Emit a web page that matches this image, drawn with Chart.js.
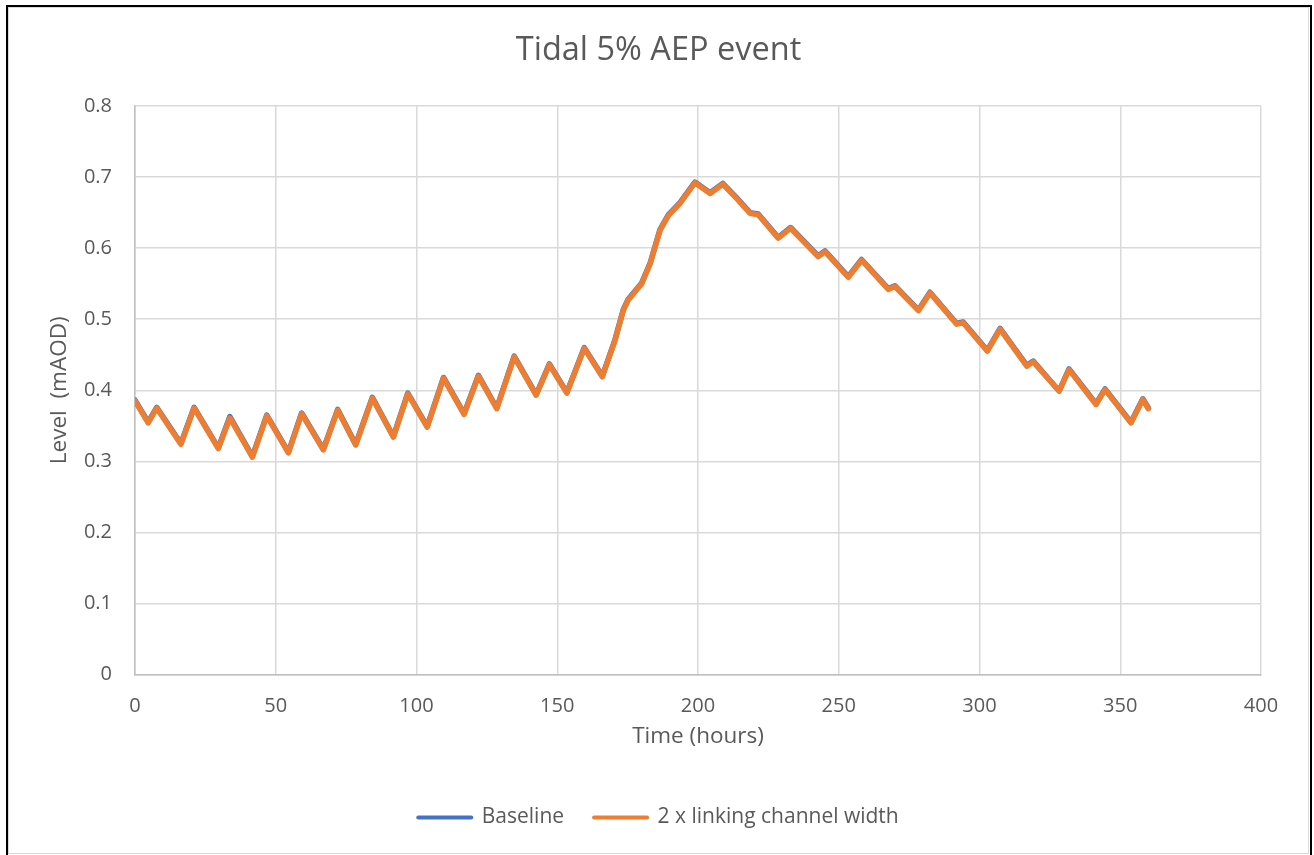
<!DOCTYPE html>
<html>
<head>
<meta charset="utf-8">
<script src="https://cdn.jsdelivr.net/npm/chart.js@4.4.1/dist/chart.umd.min.js"></script>
<style>
  html, body { margin: 0; padding: 0; background: #fff; width: 1314px; height: 855px; overflow: hidden; }
  #frame { position: absolute; left: 6px; top: 5px; width: 1302px; height: 860px; border: 2px solid #000; box-sizing: content-box; }
  #wrap { position: absolute; left: 9px; top: 8px; width: 1299px; height: 845px; outline: 1px solid #d9d9d9; }
</style>
</head>
<body>
<div id="frame"></div>
<div id="wrap"><canvas id="chart"></canvas></div>
<script>
// Time in hours of each recorded turning point of the water level
const hours = [0, 4.7, 7.7, 16.3, 21, 29.6, 33.7, 41.7, 46.8, 54.5, 59.2, 66.9, 72, 78.4, 84.3, 91.8,
  96.9, 103.8, 109.6, 116.9, 122, 128.5, 134.7, 142.5, 147.2, 153.4, 159.6, 166, 170.5, 173.5, 175.2,
  180, 183, 186.5, 189.5, 193.6, 198.9, 204.3, 208.8, 213.7, 218.5, 221.4, 228.5, 232.9, 242.7, 245.1,
  253.4, 258.1, 267.6, 270, 278.3, 282.4, 291.9, 294.2, 302.8, 307.3, 316.8, 319.1, 328.3, 331.8,
  341.4, 344.6, 353.8, 358, 360];

// Level (mAOD), baseline scenario
const baseline = [0.386, 0.355, 0.376, 0.325, 0.376, 0.319, 0.363, 0.307, 0.365, 0.313, 0.368, 0.317,
  0.373, 0.324, 0.390, 0.335, 0.396, 0.349, 0.418, 0.367, 0.421, 0.375, 0.448, 0.394, 0.437, 0.397,
  0.460, 0.420, 0.471, 0.514, 0.528, 0.551, 0.579, 0.626, 0.647, 0.664, 0.693, 0.678, 0.691, 0.671,
  0.650, 0.648, 0.615, 0.629, 0.589, 0.596, 0.560, 0.584, 0.543, 0.547, 0.513, 0.538, 0.494, 0.496,
  0.456, 0.487, 0.435, 0.441, 0.399, 0.430, 0.381, 0.402, 0.355, 0.388, 0.375];

// Level (mAOD), linking channel at twice the width
const doubleWidth = [0.385, 0.354, 0.375, 0.324, 0.375, 0.318, 0.361, 0.306, 0.364, 0.312, 0.367, 0.316,
  0.372, 0.323, 0.389, 0.334, 0.395, 0.348, 0.417, 0.366, 0.420, 0.374, 0.447, 0.393, 0.436, 0.396,
  0.459, 0.419, 0.470, 0.513, 0.527, 0.550, 0.578, 0.625, 0.646, 0.663, 0.692, 0.677, 0.690, 0.670,
  0.649, 0.647, 0.614, 0.628, 0.588, 0.595, 0.559, 0.583, 0.542, 0.546, 0.512, 0.537, 0.493, 0.495,
  0.455, 0.486, 0.434, 0.440, 0.399, 0.429, 0.380, 0.401, 0.354, 0.387, 0.374];

const seriesNames = ['Baseline', '2 x linking channel width'];
const chartTitle = 'Tidal 5% AEP event';
const xTitle = 'Time (hours)';
const yTitle = 'Level  (mAOD)';

const toPoints = vals => hours.map((h, i) => ({ x: h, y: vals[i] }));

const FONT = "'Open Sans', 'Liberation Sans', sans-serif";
const TEXT = '#595959';
const GRID = '#d9d9d9';

new Chart(document.getElementById('chart'), {
  type: 'line',
  data: {
    datasets: [
      { label: seriesNames[0], data: toPoints(baseline), borderColor: '#4472C4', backgroundColor: '#4472C4',
        borderWidth: 5.5, pointRadius: 0, tension: 0, order: 1, borderJoinStyle: 'round', borderCapStyle: 'round' },
      { label: seriesNames[1], data: toPoints(doubleWidth), borderColor: '#ED7D31', backgroundColor: '#ED7D31',
        borderWidth: 5.5, pointRadius: 0, tension: 0, order: 0, borderJoinStyle: 'round', borderCapStyle: 'round' }
    ]
  },
  options: {
    responsive: true,
    maintainAspectRatio: false,
    animation: false,
    layout: { padding: { left: 0, right: 0, top: 0, bottom: 15 } },
    plugins: {
      title: {
        display: true, text: chartTitle, color: TEXT,
        font: { family: FONT, size: 32.5, weight: 'normal' },
        padding: { top: 23.5, bottom: 35.5 }
      },
      legend: {
        position: 'bottom',
        labels: {
          color: TEXT, font: { family: FONT, size: 21 },
          usePointStyle: true, pointStyle: 'line', pointStyleWidth: 53, boxHeight: 21,
          padding: 30,
          generateLabels: chart => chart.data.datasets.map((ds, i) => ({
            text: ds.label, datasetIndex: i, fillStyle: ds.borderColor, strokeStyle: ds.borderColor,
            fontColor: TEXT, lineWidth: 4, pointStyle: 'line', lineCap: 'round', hidden: false
          }))
        }
      },
      tooltip: { enabled: false }
    },
    scales: {
      x: {
        type: 'linear', min: 0, max: 400,
        ticks: { stepSize: 50, color: TEXT, font: { family: FONT, size: 20 }, padding: 20, maxRotation: 0 },
        grid: { color: GRID, lineWidth: 1.5, drawTicks: false },
        border: { color: '#bfbfbf', width: 1.5 },
        title: { display: true, text: xTitle, color: TEXT, font: { family: FONT, size: 22.5 }, padding: { top: 0, bottom: 26.5 } },
        afterFit: s => { s.height = 102.5; }
      },
      y: {
        type: 'linear', min: 0, max: 0.8,
        ticks: { stepSize: 0.1, color: TEXT, font: { family: FONT, size: 20 }, padding: 23 },
        grid: { color: GRID, lineWidth: 1.5, drawTicks: false },
        border: { color: '#bfbfbf', width: 1.5 },
        title: { display: true, text: yTitle, color: TEXT, font: { family: FONT, size: 22.5 }, padding: { top: 37.5, bottom: 0 } },
        afterFit: s => { s.width = 126; }
      },
      // empty right-hand margin so the plot ends at 400 h while title and legend stay centred
      yRight: {
        type: 'linear', position: 'right', min: 0, max: 0.8,
        ticks: { display: false }, grid: { display: false, drawTicks: false }, border: { display: false },
        afterFit: s => { s.width = 47; }
      }
    }
  }
});
</script>
</body>
</html>
